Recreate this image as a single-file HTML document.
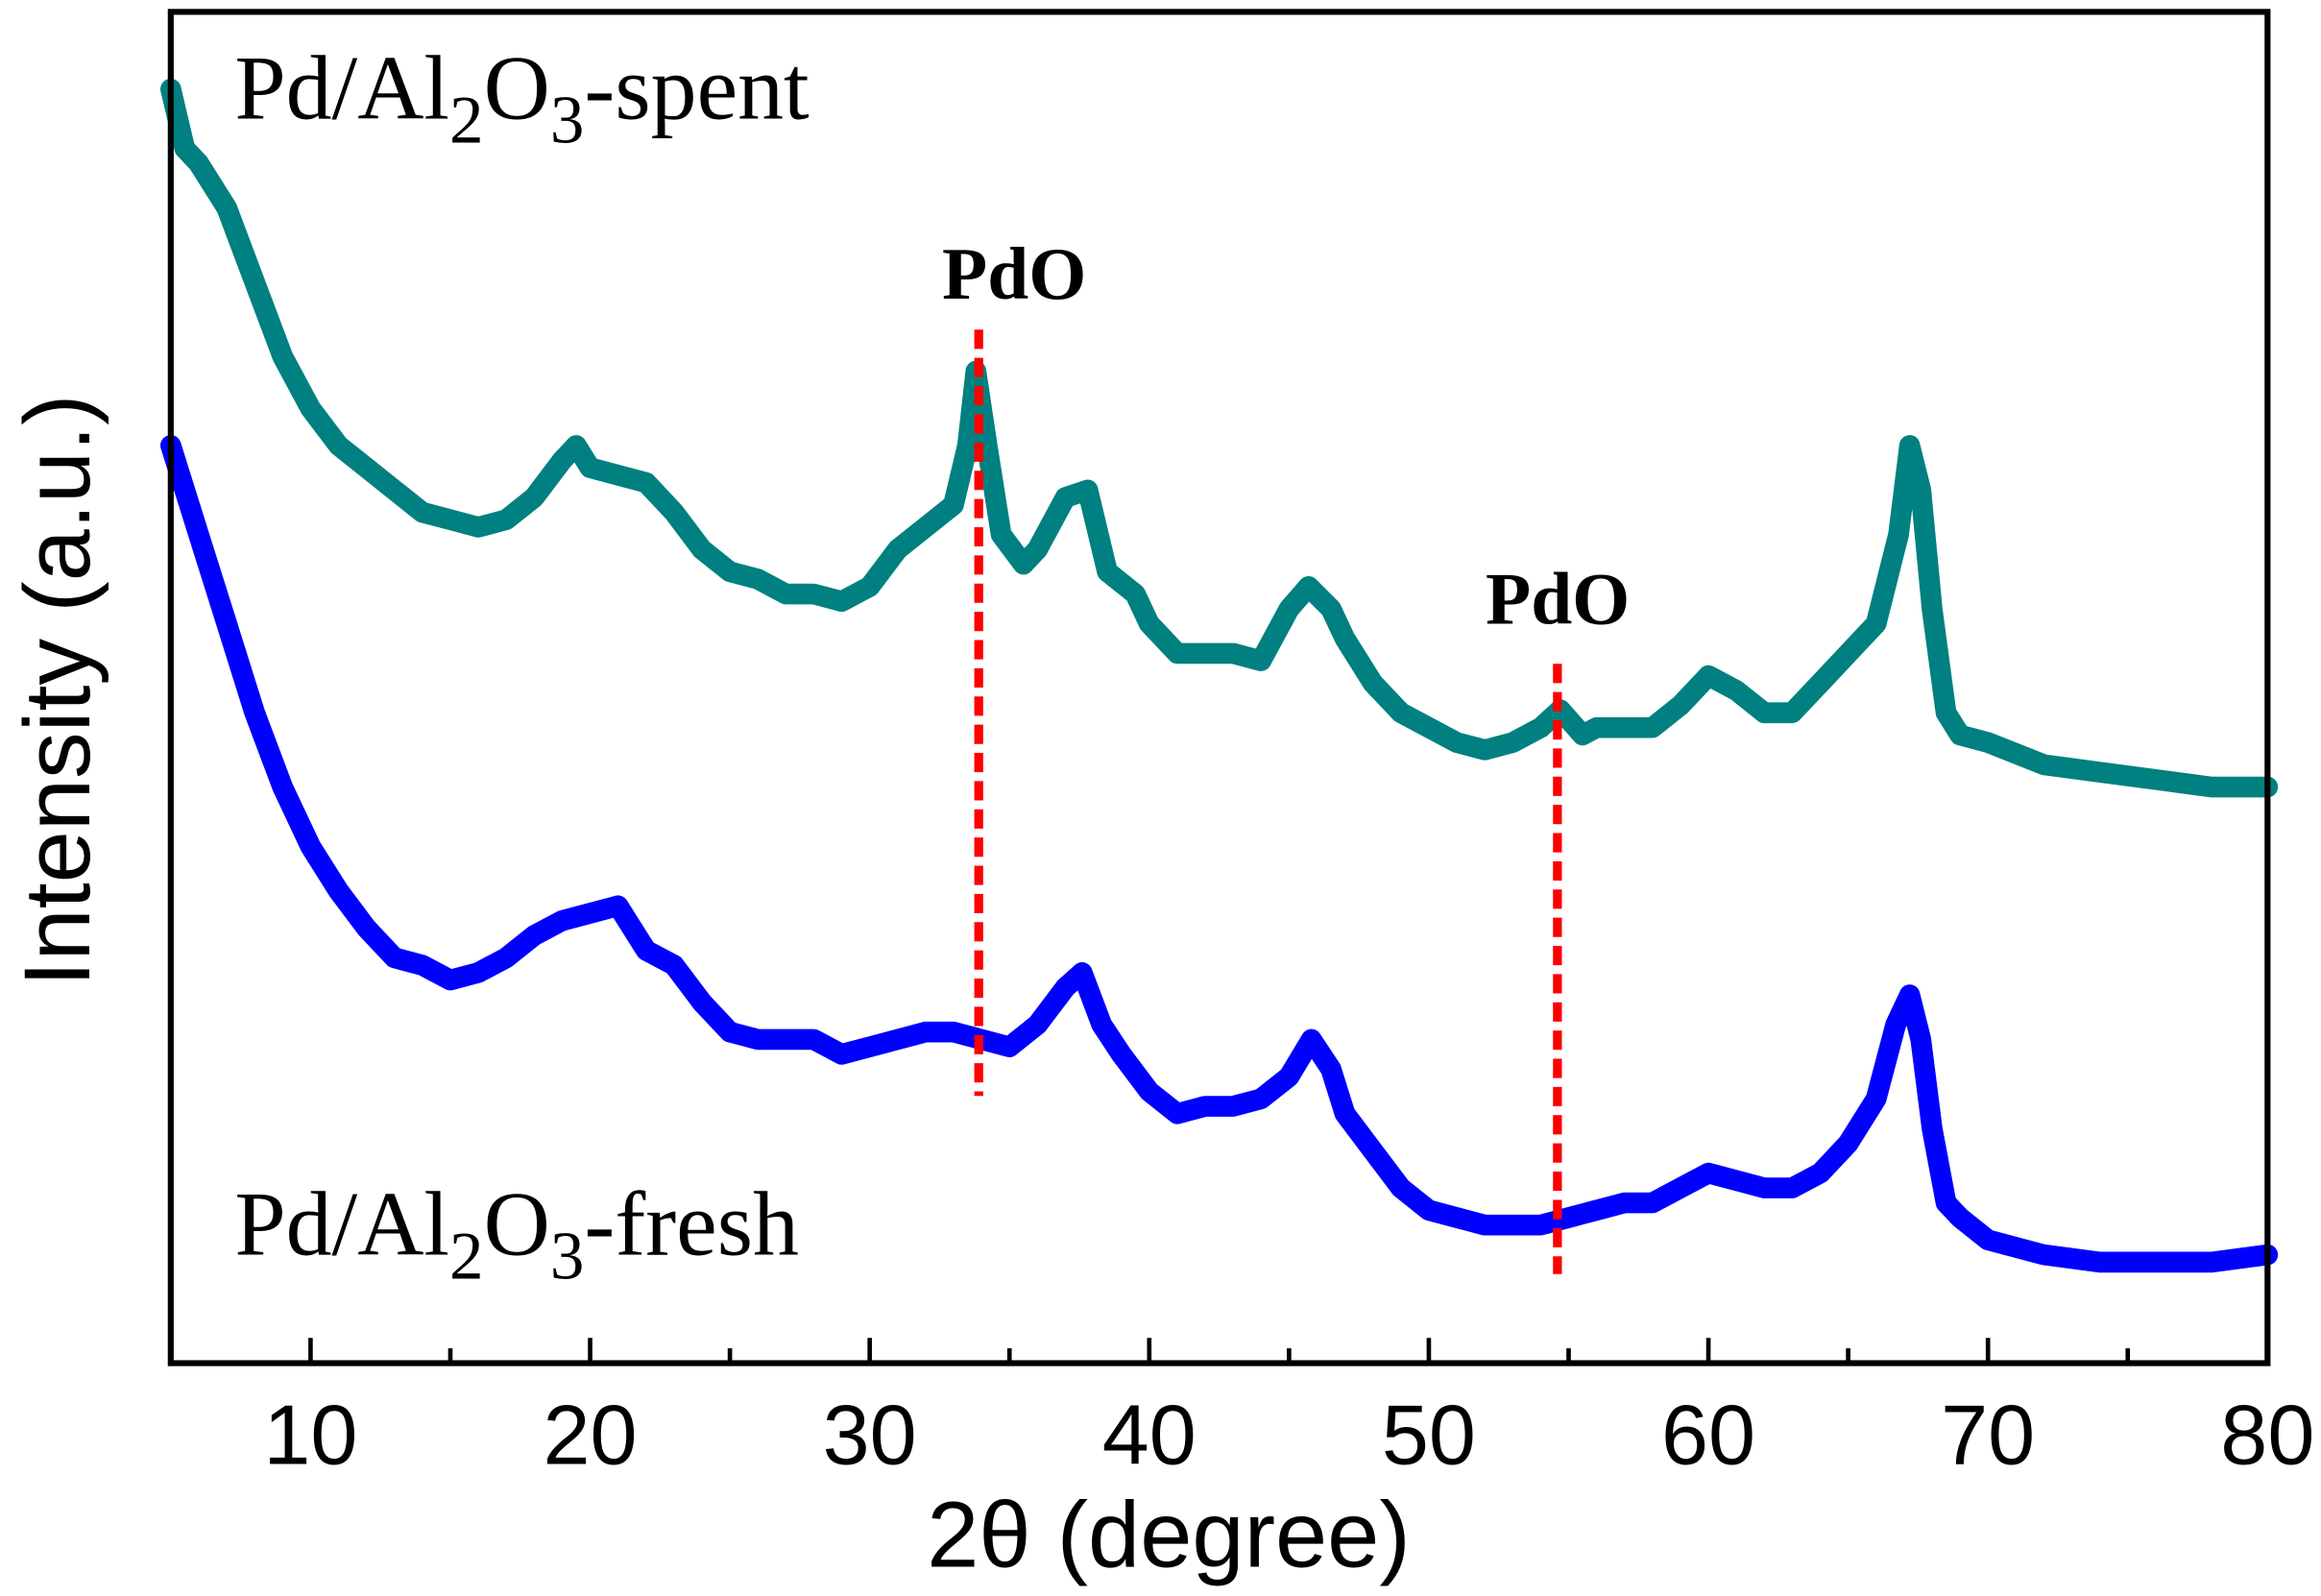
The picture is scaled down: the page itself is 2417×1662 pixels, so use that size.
<!DOCTYPE html>
<html><head><meta charset="utf-8"><style>
html,body{margin:0;padding:0;background:#fff;}
svg{display:block;}
</style></head><body>
<svg id="chart" width="2417" height="1662" viewBox="0 0 1563 1074.8" preserveAspectRatio="none" xmlns="http://www.w3.org/2000/svg">
<g id="plot"></g>
</svg>
<script>
const xTicks = [10,20,30,40,50,60,70,80];
const xMinor = [15,25,35,45,55,65,75];
const spentX = [5,5.5,6,7,8,9,10,11,12,13,14,15,16,17,18,19,19.5,20,21,22,23,24,25,26,27,28,29,30,31,32,33,33.5,33.8,34.2,34.7,35.5,36,37,37.8,38.5,39.5,40,41,42,43,44,45,45.7,46.5,47,48,49,50,51,52,53,54,54.7,55.5,56,57,58,59,60,61,62,63,64,65,66,66.8,67.2,67.6,68,68.5,69,70,72,74,76,78,80];
const spentY = [858,818,808,778,728,678,643,618,603,588,573,568,563,568,583,608,618,603,598,593,573,548,533,528,518,518,513,523,548,563,578,618,668,618,558,538,548,583,588,533,518,498,478,478,478,473,508,523,508,488,458,438,428,418,413,418,428,440,423,428,428,428,443,463,453,438,438,458,478,498,558,618,588,508,438,423,418,403,398,393,388,388];
const freshX = [5,6,7,8,9,10,11,12,13,14,15,16,17,18,19,20,21,22,23,24,25,26,27,28,29,30,31,32,33,34,35,36,37,37.6,38.3,39,40,41,42,43,44,45,45.8,46.5,47,48,49,50,51,52,53,54,55,56,57,58,59,60,61,62,63,64,65,66,66.7,67.2,67.6,68,68.5,69,70,72,74,76,78,80];
const freshY = [618,558,498,438,388,348,318,293,273,268,258,263,273,288,298,303,308,278,268,243,223,218,218,218,208,213,218,223,223,218,213,228,253,263,228,208,183,168,173,173,178,193,218,198,168,143,118,103,98,93,93,93,98,103,108,108,118,128,123,118,118,128,148,178,228,248,218,158,108,98,83,73,68,68,68,73];
const pdoLines = [33.9, 54.6];

const NS="http://www.w3.org/2000/svg";
const L=115,R=1527,T=8,B=918;
const xs=v=>L+(v-5)*(R-L)/75;
const ys=v=>B-v;
const svg=document.getElementById('chart');
function mk(tag,attrs,parent){const e=document.createElementNS(NS,tag);for(const k in attrs)e.setAttribute(k,attrs[k]);(parent||svg).appendChild(e);return e;}

function series(X,Y,color,name){
  const d=X.map((x,i)=>(i?'L':'M')+xs(x).toFixed(1)+' '+ys(Y[i]).toFixed(1)).join(' ');
  const p=mk('path',{d:d,fill:'none',stroke:color,'stroke-width':14,'stroke-linejoin':'round','stroke-linecap':'round'});
  
  
}
series(spentX,spentY,'#008080','spent-series');
series(freshX,freshY,'#0000ff','fresh-series');

const pdoTop=[222,447], pdoBot=[738,858], pdoLabelX=[683,1049], pdoLabelY=[201,420];
pdoLines.forEach((x,i)=>{
  const l=mk('line',{x1:xs(x),x2:xs(x),y1:pdoTop[i],y2:pdoBot[i],stroke:'#ff0000','stroke-width':6,'stroke-dasharray':'13 6'});
  
  
  const t=mk('text',{x:pdoLabelX[i],y:pdoLabelY[i],'text-anchor':'middle','font-family':'Liberation Serif, serif','font-weight':'bold','font-size':50});
  t.textContent='PdO';
  
  
});

const f=mk('rect',{x:L,y:T,width:R-L,height:B-T,fill:'none',stroke:'#000','stroke-width':4});



xTicks.forEach(v=>{
  const t=mk('line',{x1:xs(v),x2:xs(v),y1:B,y2:B-17,stroke:'#000','stroke-width':3});
  
  
  const tx=mk('text',{x:xs(v),y:986,'text-anchor':'middle','font-family':'Liberation Sans, sans-serif','font-size':57});
  tx.textContent=String(v);
  
  
});
xMinor.forEach(v=>{
  const t=mk('line',{x1:xs(v),x2:xs(v),y1:B,y2:B-10,stroke:'#000','stroke-width':3});
  
  
});

const xt=mk('text',{x:787,y:1055,'text-anchor':'middle','font-family':'Liberation Sans, sans-serif','font-size':63});
xt.textContent='2θ (degree)';


const yt=mk('text',{x:0,y:0,transform:'translate(60,465) rotate(-90)','text-anchor':'middle','font-family':'Liberation Sans, sans-serif','font-size':63});
yt.textContent='Intensity (a.u.)';



function label(y,suffix,name){
  const t=mk('text',{x:158,y:y,'font-family':'Liberation Serif, serif','font-size':62});
  
  
  t.innerHTML='Pd/Al<tspan dy="16" font-size="46">2</tspan><tspan dy="-16">O</tspan><tspan dy="16" font-size="46">3</tspan><tspan dy="-16">'+suffix+'</tspan>';
}
label(80,'-spent','spent-label');
label(845,'-fresh','fresh-label');
</script>
</body></html>
